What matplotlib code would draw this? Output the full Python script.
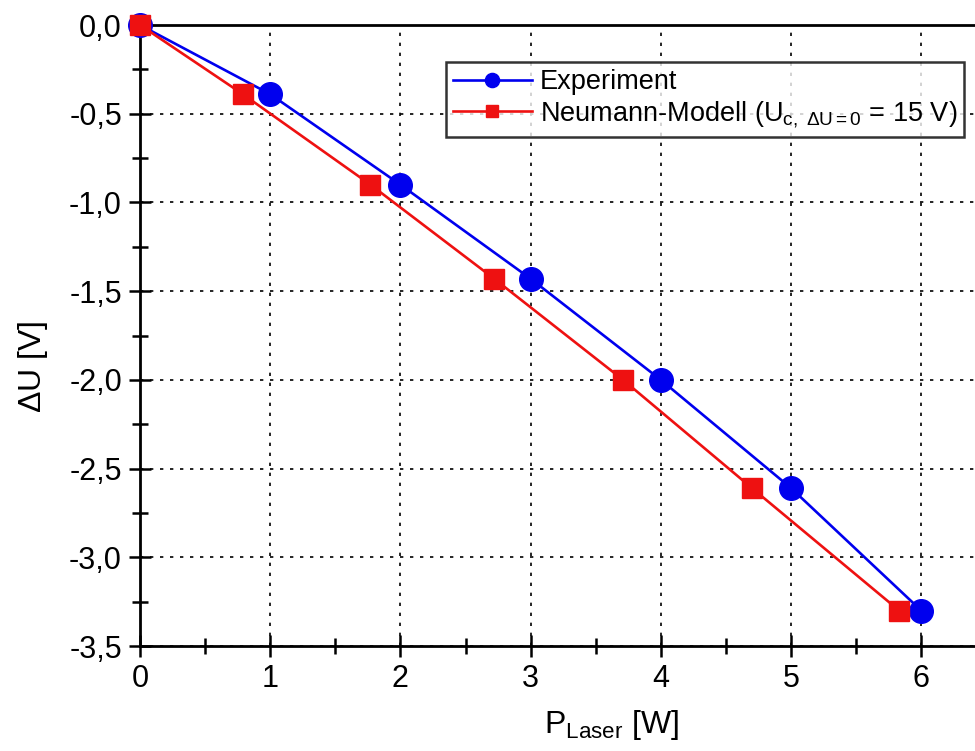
import matplotlib
matplotlib.use("Agg")
import matplotlib.pyplot as plt
from matplotlib.ticker import MultipleLocator, FuncFormatter

plt.rcParams['font.family'] = ['Liberation Sans', 'DejaVu Sans']
plt.rcParams['mathtext.fontset'] = 'custom'
plt.rcParams['mathtext.rm'] = 'Liberation Sans'
plt.rcParams['mathtext.it'] = 'Liberation Sans'
plt.rcParams['mathtext.bf'] = 'Liberation Sans'

# Measured data
p_exp = [0, 1, 2, 3, 4, 5, 6]
du_exp = [0.0, -0.39, -0.90, -1.43, -2.00, -2.61, -3.30]

# Neumann model
p_model = [0, 0.79, 1.77, 2.72, 3.71, 4.70, 5.83]
du_model = [0.0, -0.39, -0.90, -1.43, -2.00, -2.61, -3.30]

fig = plt.figure(figsize=(9.75, 7.51), dpi=100)
ax = fig.add_axes([0.1436, 0.1398, 0.8564, 0.8269])

l_exp, = ax.plot(p_exp, du_exp, color='#0000ee', lw=1.9, marker='o', ms=17,
                 label='Experiment', zorder=3, clip_on=False)
l_mod, = ax.plot(p_model, du_model, color='#ee1111', lw=1.9, marker='s', ms=14.5,
                 label=r'Neumann-Modell (U$_{\mathrm{c,\ \Delta U{=}0}}$ = 15 V)',
                 zorder=4, clip_on=False)

ax.set_xlim(0, 6.413)
ax.set_ylim(-3.5, 0.0)

ax.xaxis.set_major_locator(MultipleLocator(1))
ax.xaxis.set_minor_locator(MultipleLocator(0.5))
ax.yaxis.set_major_locator(MultipleLocator(0.5))
ax.yaxis.set_minor_locator(MultipleLocator(0.25))
ax.yaxis.set_major_formatter(FuncFormatter(lambda v, _: f"{v:.1f}".replace('.', ',').replace('-0,0', '0,0')))

ax.tick_params(axis='both', which='major', direction='inout', length=16, width=1.8,
               labelsize=22, pad=5)
ax.tick_params(axis='both', which='minor', direction='inout', length=12, width=1.8)
ax.tick_params(axis='x', which='both', top=False)
ax.tick_params(axis='y', which='both', right=False)

for s in ['left', 'bottom', 'top']:
    ax.spines[s].set_linewidth(2)
ax.spines['right'].set_visible(False)

ax.grid(True, which='major', color='black', linestyle=(0, (2, 4)), linewidth=1.2)

ax.set_xlabel(r'P$_{\mathrm{Laser}}$ [W]', fontsize=23)
ax.set_ylabel(r'$\Delta$U [V]', fontsize=23)
ax.xaxis.set_label_coords(0.565, -0.1)
ax.yaxis.set_label_coords(-0.108, 0.45)

leg = ax.legend([l_exp, l_mod], [l_exp.get_label(), l_mod.get_label()],
                loc='upper left', bbox_to_anchor=(0.367, 0.94), fontsize=19.5,
                frameon=True, fancybox=False, edgecolor='black', markerscale=0.6,
                handlelength=2.9, handletextpad=0.3, borderpad=0.25,
                labelspacing=0.15, borderaxespad=0)
leg.get_frame().set_linewidth(1.8)
leg.set_zorder(10)

fig.savefig('out.png', dpi=100)
